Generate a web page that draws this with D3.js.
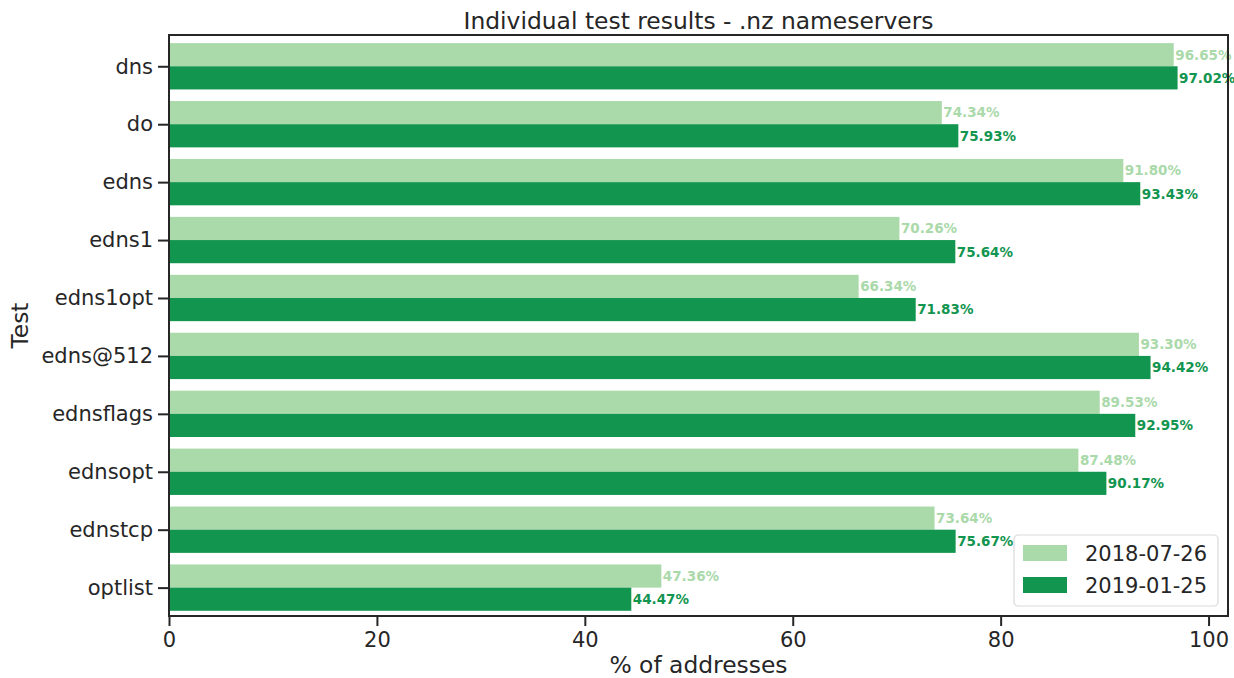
<!DOCTYPE html>
<html>
<head>
<meta charset="utf-8">
<script src="https://cdn.jsdelivr.net/npm/d3@7"></script>
<style>
  html, body { margin: 0; padding: 0; background: #fff; }
  svg { display: block; font-family: "DejaVu Sans", sans-serif; }
</style>
</head>
<body>
<svg id="chart" width="1234" height="678"></svg>
<script>
// Test names, top to bottom
const tests = ["dns", "do", "edns", "edns1", "edns1opt", "edns@512", "ednsflags", "ednsopt", "ednstcp", "optlist"];
// Share of addresses passing each test (%)
const run2018 = [96.65, 74.34, 91.80, 70.26, 66.34, 93.30, 89.53, 87.48, 73.64, 47.36];
const run2019 = [97.02, 75.93, 93.43, 75.64, 71.83, 94.42, 92.95, 90.17, 75.67, 44.47];
const seriesNames = ["2018-07-26", "2019-01-25"];
const seriesColors = ["#aad9aa", "#12954f"];
const xTicks = [0, 20, 40, 60, 80, 100];

const svg = d3.select("#chart");
const ink = "#262626";
const plotLeft = 169, plotRight = 1228, plotTop = 35, plotBottom = 616;

const x = d3.scaleLinear().domain([0, 101.87]).range([plotLeft, plotRight]);
const y = d3.scaleLinear().domain([-0.54, 9.49]).range([plotTop, plotBottom]);
const barH = y(0.4) - y(0);

const series = [run2018, run2019];

// bars: first series above the tick, second below
series.forEach((vals, s) => {
  const g = svg.append("g");
  g.selectAll("rect").data(vals).join("rect")
    .attr("x", x(0))
    .attr("y", (d, i) => s === 0 ? y(i - 0.4) : y(i))
    .attr("width", d => x(d) - x(0))
    .attr("height", barH)
    .attr("fill", seriesColors[s]);
  g.selectAll("text").data(vals).join("text")
    .attr("x", d => x(d) + 1.5)
    .attr("y", (d, i) => s === 0 ? y(i - 0.2) : y(i + 0.2))
    .attr("dy", "0.36em")
    .attr("font-size", 13.5)
    .attr("font-weight", "bold")
    .attr("fill", seriesColors[s])
    .text(d => d.toFixed(2) + "%");
});

// axes
const xAxis = d3.axisBottom(x).tickValues(xTicks).tickFormat(d3.format("d")).tickSize(10).tickPadding(6);
const gx = svg.append("g").attr("transform", `translate(0,${plotBottom})`).call(xAxis);
gx.select(".domain").remove();
gx.selectAll(".tick line").attr("stroke", ink).attr("stroke-width", 2);
gx.selectAll(".tick text").attr("font-size", 21).attr("fill", ink).attr("font-family", "DejaVu Sans");

const yAxis = d3.axisLeft(y).tickValues(d3.range(tests.length)).tickFormat(i => tests[i]).tickSize(11).tickPadding(5);
const gy = svg.append("g").attr("transform", `translate(${plotLeft},0)`).call(yAxis);
gy.select(".domain").remove();
gy.selectAll(".tick line").attr("stroke", ink).attr("stroke-width", 2);
gy.selectAll(".tick text").attr("font-size", 21).attr("fill", ink).attr("font-family", "DejaVu Sans");

// frame
svg.append("rect")
  .attr("x", plotLeft).attr("y", plotTop)
  .attr("width", plotRight - plotLeft).attr("height", plotBottom - plotTop)
  .attr("fill", "none").attr("stroke", ink).attr("stroke-width", 2);

// title and axis labels
svg.append("text").attr("x", (plotLeft + plotRight) / 2).attr("y", 29)
  .attr("text-anchor", "middle").attr("font-size", 23.4).attr("fill", ink)
  .text("Individual test results - .nz nameservers");
svg.append("text").attr("x", (plotLeft + plotRight) / 2).attr("y", 673)
  .attr("text-anchor", "middle").attr("font-size", 23.4).attr("fill", ink)
  .text("% of addresses");
svg.append("text").attr("transform", `translate(28,${(plotTop + plotBottom) / 2}) rotate(-90)`)
  .attr("text-anchor", "middle").attr("font-size", 23.4).attr("fill", ink)
  .text("Test");

// legend
const lg = svg.append("g").attr("transform", "translate(1014,535)");
lg.append("rect").attr("width", 204).attr("height", 71).attr("rx", 4)
  .attr("fill", "#fff").attr("fill-opacity", 0.8)
  .attr("stroke", "#d9d9d9").attr("stroke-width", 1.2);
seriesNames.forEach((name, s) => {
  const cy = 18 + s * 32;
  lg.append("rect").attr("x", 9).attr("y", cy - 8).attr("width", 44).attr("height", 16)
    .attr("fill", seriesColors[s]);
  lg.append("text").attr("x", 71).attr("y", cy).attr("dy", "0.36em")
    .attr("font-size", 21).attr("fill", ink).text(name);
});
</script>
</body>
</html>
